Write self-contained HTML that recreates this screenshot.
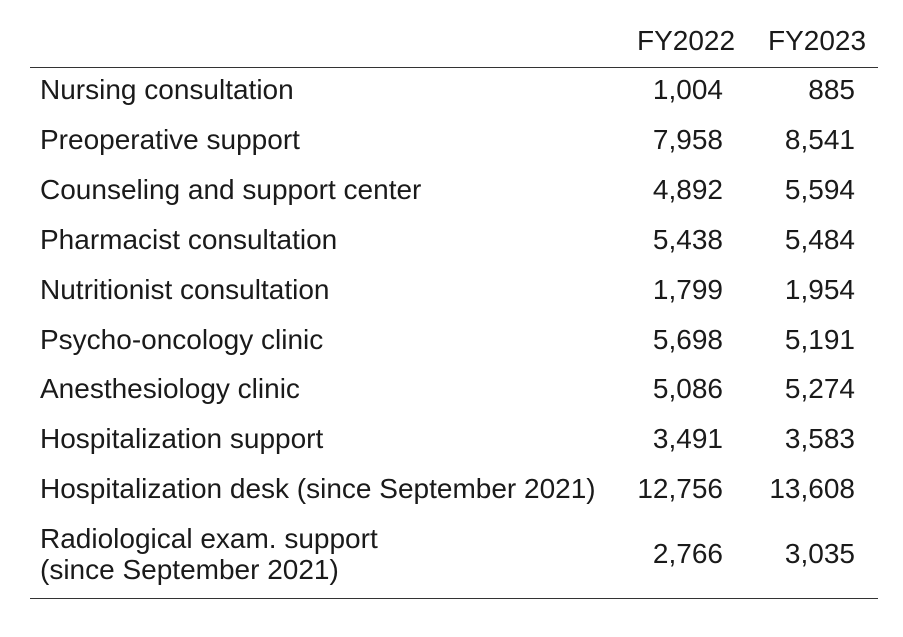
<!DOCTYPE html>
<html><head><meta charset="utf-8"><style>
body{margin:0;width:903px;height:637px;background:#fff;font-family:"Liberation Sans",Arial,sans-serif;color:#1a1a1a;position:relative;overflow:hidden}
.t{position:absolute;font-size:28px;line-height:31px;white-space:nowrap}
.l{left:40px}
.a{right:180px;text-align:right}
.b{right:48px;text-align:right}
.rule{position:absolute;left:30px;width:848px;height:1px;background:#333}
</style></head><body>
<div>
<div class="t" style="left:637px;top:25px">FY2022</div>
<div class="t" style="left:768px;top:25px">FY2023</div>
<div class="rule" style="top:67px"></div>
<div id="rows"></div>
<div class="t l" style="top:523px">Radiological exam. support<br>(since September 2021)</div>
<div class="t a" style="top:538px">2,766</div>
<div class="t b" style="top:538px">3,035</div>
<div class="rule" style="top:598px"></div>
</div>
<script>
const labels=["Nursing consultation","Preoperative support","Counseling and support center","Pharmacist consultation","Nutritionist consultation","Psycho-oncology clinic","Anesthesiology clinic","Hospitalization support","Hospitalization desk (since September 2021)"];
const fy2022=["1,004","7,958","4,892","5,438","1,799","5,698","5,086","3,491","12,756"];
const fy2023=["885","8,541","5,594","5,484","1,954","5,191","5,274","3,583","13,608"];
const rows=document.getElementById('rows');
labels.forEach((lab,i)=>{
  const top=74+i*49.9;
  [[lab,'t l','row-label'],[fy2022[i],'t a','value-fy2022'],[fy2023[i],'t b','value-fy2023']].forEach(([txt,cls,nm])=>{
    const d=document.createElement('div');
    d.className=cls;d.style.top=top+'px';d.textContent=txt;
    
    
    rows.appendChild(d);
  });
});
</script>
</body></html>
